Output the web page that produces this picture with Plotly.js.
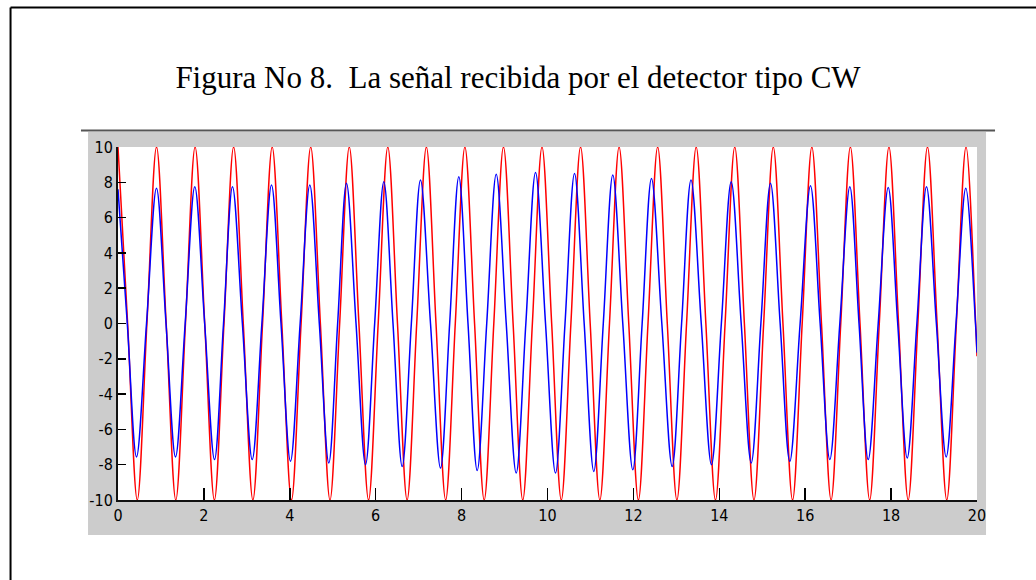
<!DOCTYPE html>
<html>
<head>
<meta charset="utf-8">
<script src="https://cdn.plot.ly/plotly-3.0.1.min.js"></script>
<style>
html,body{margin:0;padding:0;background:#fff;}
#chart{width:1036px;height:580px;}
</style>
</head>
<body>
<div id="chart"></div>
<script>
// ---- Data ----
// Red trace: key points (peaks, zero crossings, troughs)
var redT = [
  0.000, 0.224, 0.449, 0.673,
  0.897, 1.122, 1.346, 1.571,
  1.795, 2.019, 2.244, 2.468,
  2.692, 2.917, 3.141, 3.366,
  3.590, 3.814, 4.039, 4.263,
  4.487, 4.712, 4.936, 5.161,
  5.385, 5.609, 5.834, 6.058,
  6.282, 6.507, 6.731, 6.955,
  7.180, 7.404, 7.629, 7.853,
  8.077, 8.302, 8.526, 8.750,
  8.975, 9.199, 9.424, 9.648,
  9.872, 10.097, 10.321, 10.545,
  10.770, 10.994, 11.219, 11.443,
  11.667, 11.892, 12.116, 12.340,
  12.565, 12.789, 13.013, 13.238,
  13.462, 13.687, 13.911, 14.135,
  14.360, 14.584, 14.808, 15.033,
  15.257, 15.482, 15.706, 15.930,
  16.155, 16.379, 16.603, 16.828,
  17.052, 17.276, 17.501, 17.725,
  17.950, 18.174, 18.398, 18.623,
  18.847, 19.071, 19.296, 19.520,
  19.745, 19.969, 20.000
];
var redV = [
  10, 0, -10, 0,
  10, 0, -10, 0,
  10, 0, -10, 0,
  10, 0, -10, 0,
  10, 0, -10, 0,
  10, 0, -10, 0,
  10, 0, -10, 0,
  10, 0, -10, 0,
  10, 0, -10, 0,
  10, 0, -10, 0,
  10, 0, -10, 0,
  10, 0, -10, 0,
  10, 0, -10, 0,
  10, 0, -10, 0,
  10, 0, -10, 0,
  10, 0, -10, 0,
  10, 0, -10, 0,
  10, 0, -10, 0,
  10, 0, -10, 0,
  10, 0, -10, 0,
  10, 0, -10, 0,
  10, 0, -10, 0,
  10, 0, -1.85
];

// Blue trace: peaks, troughs and zero crossings
var bluePeakT = [0.000, 0.896, 1.788, 2.666, 3.574, 4.466, 5.320, 6.189, 7.043, 7.935, 8.806, 9.721,
                 10.629, 11.520, 12.421, 13.341, 14.277, 15.192, 16.123, 17.039, 17.933, 18.824, 19.739];
var bluePeakV = [7.60, 7.66, 7.75, 7.75, 7.85, 7.85, 7.94, 8.03, 8.13, 8.31, 8.45, 8.56,
                 8.50, 8.41, 8.22, 8.13, 8.03, 7.94, 7.80, 7.75, 7.70, 7.75, 7.66];
var blueTroughT = [0.431, 1.339, 2.247, 3.125, 4.016, 4.908, 5.763, 6.617, 7.509, 8.363, 9.271,
                   10.186, 11.078, 11.986, 12.903, 13.818, 14.743, 15.641, 16.573, 17.467, 18.375, 19.283];
var blueTroughV = [-7.56, -7.56, -7.71, -7.71, -7.81, -7.90, -8.00, -8.10, -8.19, -8.33, -8.47,
                   -8.47, -8.38, -8.29, -8.10, -8.00, -7.90, -7.81, -7.71, -7.71, -7.62, -7.56];
var blueZeroT = [0.216, 0.664, 1.118, 1.564, 2.018, 2.457, 2.896, 3.350, 3.795, 4.241, 4.687, 5.114,
                 5.542, 5.976, 6.403, 6.830, 7.276, 7.722, 8.149, 8.585, 9.039, 9.496, 9.954, 10.408,
                 10.854, 11.299, 11.753, 12.204, 12.662, 13.122, 13.580, 14.048, 14.510, 14.968, 15.417,
                 15.882, 16.348, 16.806, 17.253, 17.700, 18.154, 18.600, 19.054, 19.511, 19.965];
var blueEndT = [20.0];
var blueEndV = [-1.65];

// Axis ticks
var xTickVals = [0, 2, 4, 6, 8, 10, 12, 14, 16, 18, 20];
var xTickText = ["0", "2", "4", "6", "8", "10", "12", "14", "16", "18", "20"];
var yTickVals = [-10, -8, -6, -4, -2, 0, 2, 4, 6, 8, 10];
var yTickText = ["-10", "-8", "-6", "-4", "-2", "0", "2", "4", "6", "8", "10"];

var titleText = "Figura No 8.\u00a0 La señal recibida por el detector tipo CW";

// ---- Build blue series from its read points ----
var bluePts = [];
bluePeakT.forEach(function (t, i) { bluePts.push([t, bluePeakV[i]]); });
blueTroughT.forEach(function (t, i) { bluePts.push([t, blueTroughV[i]]); });
blueZeroT.forEach(function (t) { bluePts.push([t, 0]); });
blueEndT.forEach(function (t, i) { bluePts.push([t, blueEndV[i]]); });
bluePts.sort(function (a, b) { return a[0] - b[0]; });

var traces = [
  {
    x: redT, y: redV, type: 'scatter', mode: 'lines',
    line: {color: '#ff0000', width: 1.5, shape: 'spline', smoothing: 1},
    hoverinfo: 'skip', showlegend: false
  },
  {
    x: bluePts.map(function (p) { return p[0]; }),
    y: bluePts.map(function (p) { return p[1]; }),
    type: 'scatter', mode: 'lines',
    line: {color: '#0000ff', width: 1.5, shape: 'spline', smoothing: 1},
    hoverinfo: 'skip', showlegend: false
  }
];

var tickFont = {family: '"Liberation Sans Narrow", "Arial Narrow", "DejaVu Sans Condensed", sans-serif', size: 16, color: '#000'};

var layout = {
  width: 1036, height: 580,
  margin: {l: 118, r: 59, t: 147, b: 80, pad: 0},
  paper_bgcolor: '#ffffff',
  plot_bgcolor: 'rgba(0,0,0,0)',
  title: {
    text: titleText,
    font: {family: '"Liberation Serif", "Times New Roman", serif', size: 31, color: '#000'},
    xref: 'container', yref: 'container', x: 0.5, y: 0.867,
    xanchor: 'center', yanchor: 'middle'
  },
  xaxis: {
    range: [0, 20], tickvals: xTickVals, ticktext: xTickText,
    ticks: 'inside', ticklen: 12, tickwidth: 1.5, tickcolor: '#000',
    showline: true, linecolor: '#111', linewidth: 2, mirror: false,
    showgrid: false, zeroline: false, tickfont: tickFont, fixedrange: true
  },
  yaxis: {
    range: [-10, 10], tickvals: yTickVals, ticktext: yTickText,
    ticks: 'inside', ticklen: 8, tickwidth: 1.5, tickcolor: '#000',
    showline: true, linecolor: '#111', linewidth: 2, mirror: false,
    showgrid: false, zeroline: false, tickfont: tickFont, fixedrange: true
  },
  shapes: [
    // outer document frame
    {type: 'line', xref: 'paper', yref: 'paper', x0: -0.1251, x1: -0.1251, y0: 1.3952, y1: -0.26,
     line: {color: '#000', width: 2}, layer: 'below'},
    {type: 'line', xref: 'paper', yref: 'paper', x0: -0.1251, x1: 1.08, y0: 1.3952, y1: 1.3952,
     line: {color: '#000', width: 2}, layer: 'below'},
    // figure window (gray)
    {type: 'rect', xref: 'paper', yref: 'paper', x0: -0.0349, x1: 1.0105, y0: -0.0992, y1: 1.0425,
     fillcolor: '#cccccc', line: {width: 0}, layer: 'below'},
    // plot area (white)
    {type: 'rect', xref: 'paper', yref: 'paper', x0: 0, x1: 1, y0: 0, y1: 1,
     fillcolor: '#ffffff', line: {width: 0}, layer: 'below'},
    // rule under the title
    {type: 'line', xref: 'paper', yref: 'paper', x0: -0.0431, x1: 1.021, y0: 1.0467, y1: 1.0467,
     line: {color: '#555555', width: 2}, layer: 'below'}
  ]
};

Plotly.newPlot('chart', traces, layout, {displayModeBar: false, staticPlot: true});
</script>
</body>
</html>
